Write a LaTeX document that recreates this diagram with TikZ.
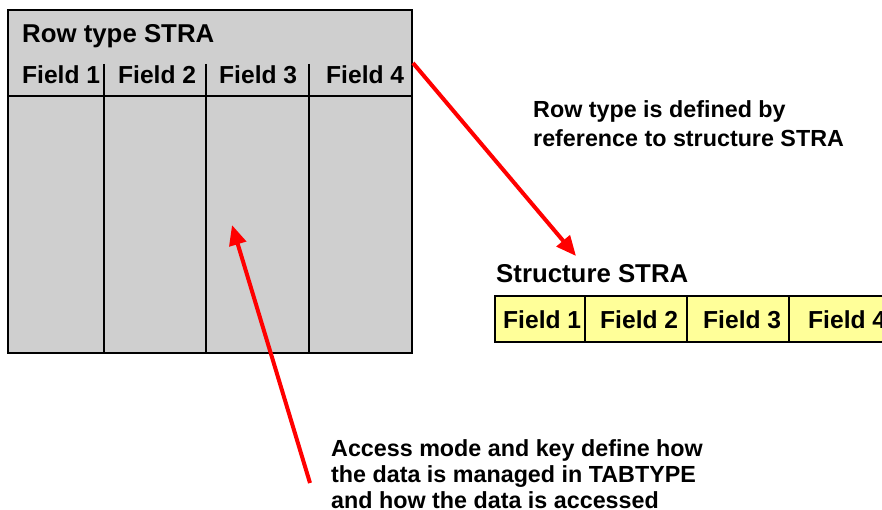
\documentclass[tikz,border=0pt]{standalone}
\usepackage{fontspec}
\setmainfont{Liberation Sans}
\usetikzlibrary{arrows.meta,positioning}

\definecolor{cellgray}{RGB}{207,207,207}
\definecolor{fieldyellow}{RGB}{255,255,153}

\begin{document}
\begin{tikzpicture}[x=1pt, y=-1pt, >={Triangle[length=20pt,width=17pt]},
  title/.style={font=\fontsize{25.8}{30}\selectfont\bfseries, inner sep=0, anchor=base west},
  fieldtext/.style={font=\fontsize{24.6}{29}\selectfont\bfseries, inner sep=0, anchor=base west},
  note/.style={font=\fontsize{23.3}{29}\selectfont\bfseries, inner sep=0, anchor=north west, align=left},
  pointer/.style={->, red, line width=4pt}]

\useasboundingbox (0,0) rectangle (882,510);
\clip (0,0) rectangle (882,510);

% Table with row type STRA
\filldraw[fill=cellgray, draw=black, line width=1.5pt] (8,10) rectangle (412,353);
\draw[line width=1.5pt] (8,96) -- (412,96);
\foreach \x in {104,206,309}
  \draw[line width=1.5pt] (\x,64) -- (\x,353);

\node[title] (rowtype) at (22,43) {Row type STRA};
\foreach \x/\n in {22/1,118/2,219/3,326/4}
  \node[fieldtext] (tf\n) at (\x,84) {Field \n};

% Structure STRA
\node[title] (strtitle) at (496,283) {Structure STRA};
\filldraw[fill=fieldyellow, draw=black, line width=1.5pt] (495,296) rectangle (900,342);
\foreach \x in {585,687,789}
  \draw[line width=1.5pt] (\x,296) -- (\x,342);
\foreach \x/\n in {503/1,600/2,703/3,808/4}
  \node[fieldtext] (sf\n) at (\x,328) {Field \n};

% Notes
\node[note] (rownote) at (533,100) {Row type is defined by\\reference to structure STRA};
\node[note, font=\fontsize{23.3}{26}\selectfont\bfseries] (accnote) at (331,439)
  {Access mode and key define how\\the data is managed in TABTYPE\\and how the data is accessed};

% Arrows
\coordinate (rowedge) at (413,63);
\coordinate (strtip) at (576,256);
\draw[pointer] (rowedge) -- (strtip);
\coordinate (accstart) at (310,483);
\coordinate (celltip) at (232,225);
\draw[pointer] (accstart) -- (celltip);

\end{tikzpicture}
\end{document}
